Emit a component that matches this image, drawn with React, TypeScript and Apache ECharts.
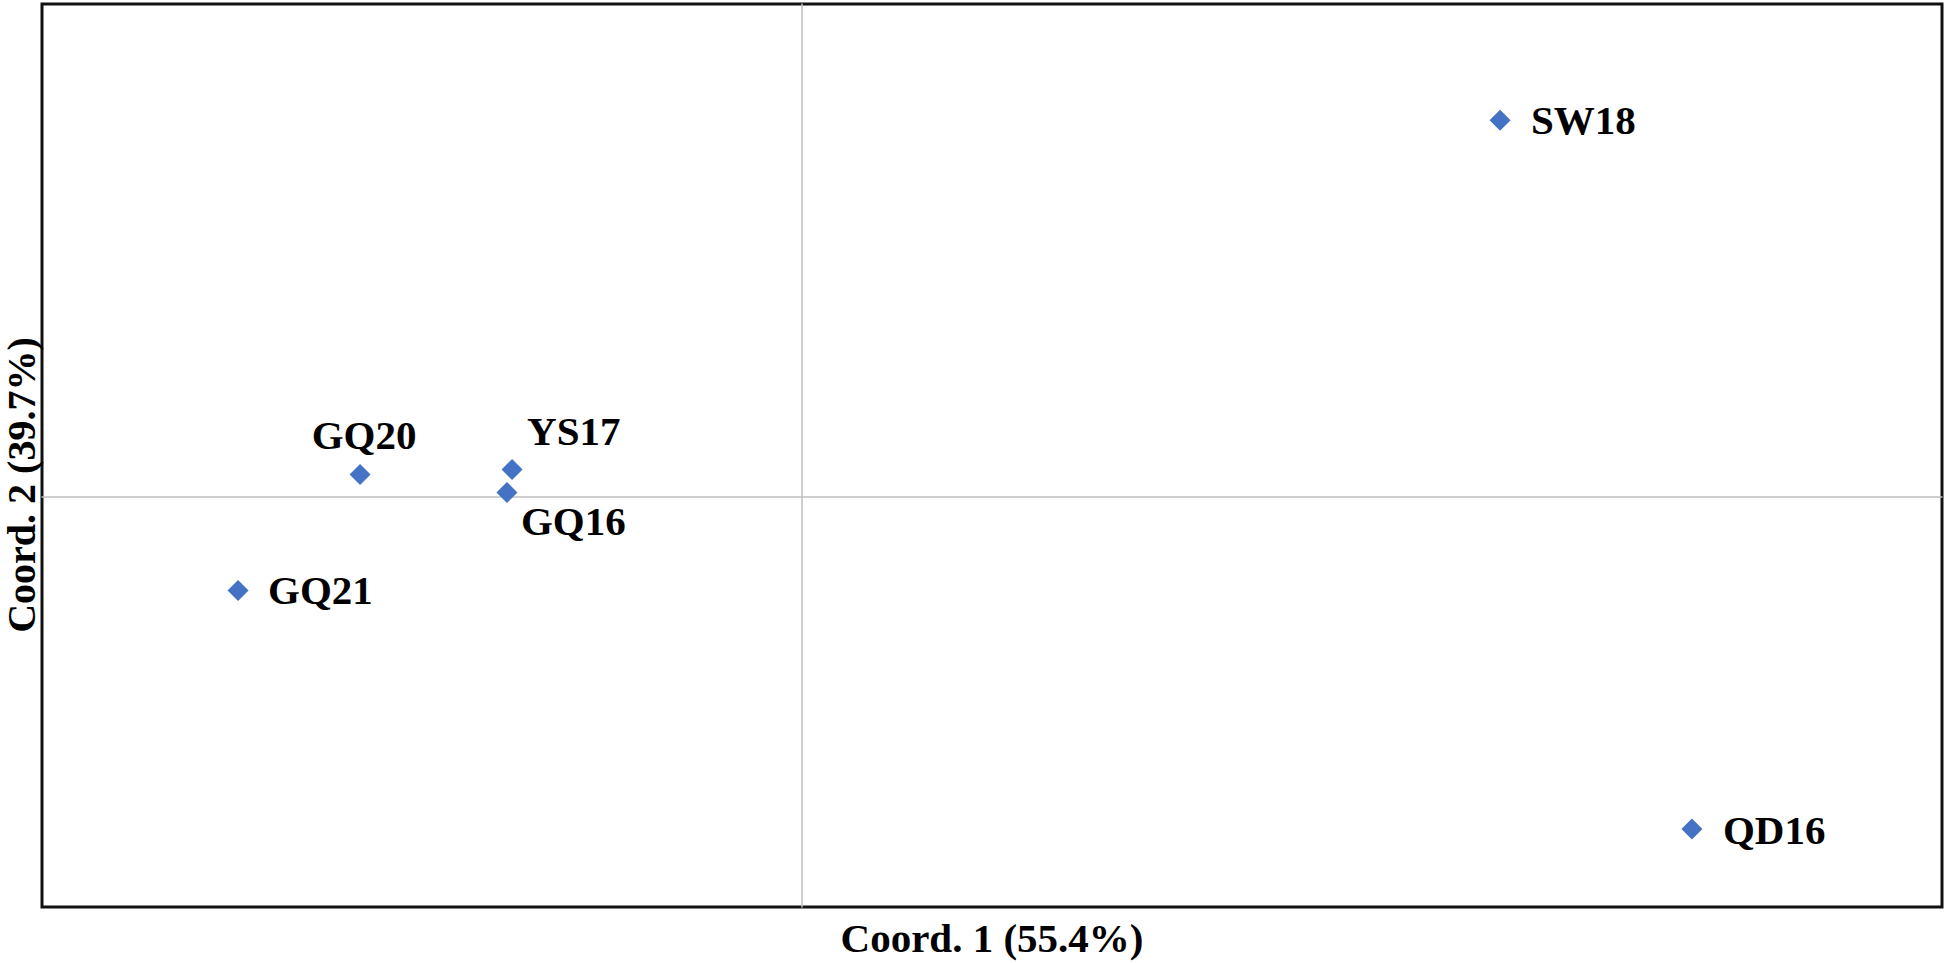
import React, { useEffect, useRef } from "react";
import * as echarts from "echarts";

const sampleNames = ["GQ20", "YS17", "GQ16", "GQ21", "SW18", "QD16"];
const coord1Values = [-0.2326, -0.1526, -0.1553, -0.2968, 0.3674, 0.4684];
const coord2Values = [0.0214, 0.0263, 0.0039, -0.0915, 0.3668, -0.324];
const xAxisTitle = "Coord. 1 (55.4%)";
const yAxisTitle = "Coord. 2 (39.7%)";

// label placement (style only)
const labelAligns = ["center", "left", "left", "left", "left", "left"];
const labelOffsets: [number, number][] = [
  [4, -40],
  [15, -39],
  [14, 28],
  [30, 0],
  [31, 0],
  [31, 1],
];

const FONT = '"Liberation Serif", "Times New Roman", serif';

export default function App() {
  const ref = useRef<HTMLDivElement>(null);
  useEffect(() => {
    if (!ref.current) return;
    const chart = echarts.init(ref.current, undefined, { renderer: "svg" });
    const data = sampleNames.map((n, i) => ({
      name: n,
      value: [coord1Values[i], coord2Values[i]],
      label: {
        show: true,
        formatter: n,
        position: "inside",
        align: labelAligns[i],
        verticalAlign: "middle",
        offset: labelOffsets[i],
      },
    }));
    chart.setOption({
      animation: false,
      backgroundColor: "#ffffff",
      grid: {
        left: 42,
        top: 4,
        width: 1900,
        height: 904,
        show: true,
        borderColor: "#111111",
        borderWidth: 3,
        backgroundColor: "transparent",
      },
      xAxis: {
        type: "value",
        min: -0.4,
        max: 0.6,
        name: xAxisTitle,
        nameLocation: "middle",
        nameGap: 10,
        nameTextStyle: {
          fontFamily: FONT,
          fontWeight: "bold",
          fontSize: 41,
          color: "#000",
          verticalAlign: "top",
        },
        axisLine: { onZero: true, lineStyle: { color: "#bfbfbf", width: 1.5 } },
        axisTick: { show: false },
        axisLabel: { show: false },
        splitLine: { show: false },
      },
      yAxis: {
        type: "value",
        min: -0.4,
        max: 0.48,
        axisLine: { onZero: true, lineStyle: { color: "#bfbfbf", width: 1.5 } },
        axisTick: { show: false },
        axisLabel: { show: false },
        splitLine: { show: false },
      },
      graphic: [
        {
          type: "text",
          x: 21,
          y: 485,
          rotation: Math.PI / 2,
          style: {
            text: yAxisTitle,
            fontFamily: FONT,
            fontWeight: "bold",
            fontSize: 40,
            fill: "#000",
            align: "center",
            verticalAlign: "middle",
          },
        },
      ],
      series: [
        {
          type: "scatter",
          symbol: "diamond",
          symbolSize: 21,
          itemStyle: { color: "#4472C4", opacity: 1 },
          label: {
            fontFamily: FONT,
            fontWeight: "bold",
            fontSize: 41,
            color: "#000",
          },
          data,
        },
      ],
    });
    return () => chart.dispose();
  }, []);
  return (
    <div
      ref={ref}
      style={{ position: "fixed", left: 0, top: 0, width: 1949, height: 963, background: "#fff" }}
    />
  );
}
